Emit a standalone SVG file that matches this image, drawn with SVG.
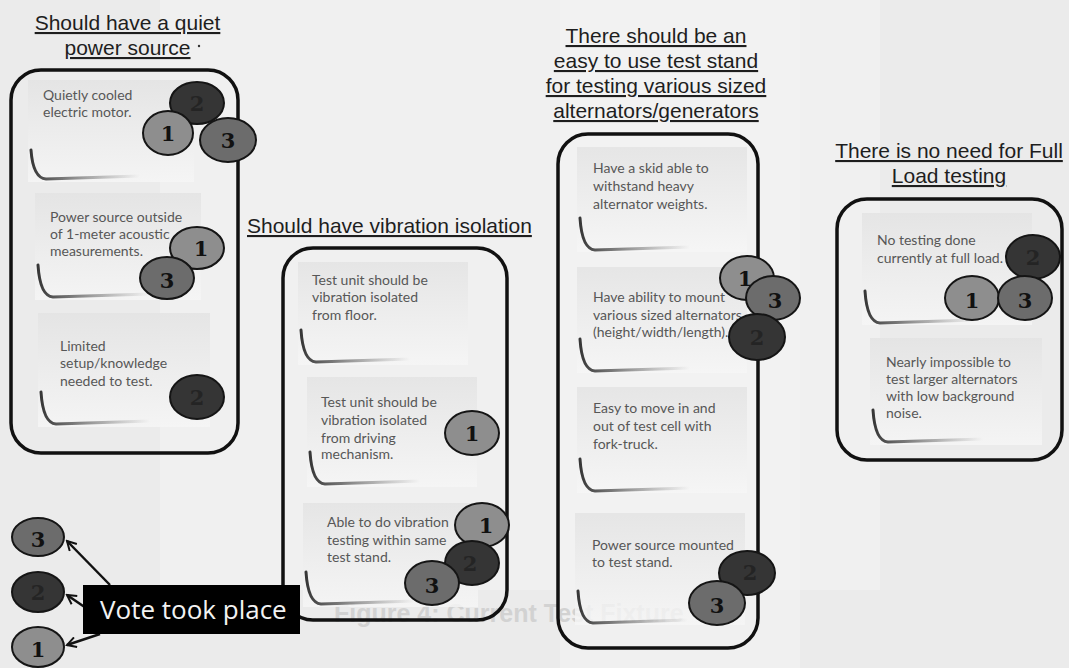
<svg xmlns="http://www.w3.org/2000/svg" width="1069" height="668" viewBox="0 0 1069 668">
<style>
.bg{fill:#ebebeb}
.hd{font-family:"Liberation Sans",Arial,sans-serif;font-size:21px;fill:#1e1e1e;text-decoration:underline}
.box{fill:none;stroke:#111;stroke-width:3.5}
.note{fill:url(#noteg);fill-opacity:0.82}
.curl{fill:none;stroke:url(#curlg);stroke-width:3;stroke-linecap:round}
.nt{font-family:Lato,"Open Sans",sans-serif;font-size:14px;fill:#575757}
.c1{fill:#8e8e8e;stroke:#151515;stroke-width:2}
.c2{fill:#353535;stroke:#151515;stroke-width:2}
.c3{fill:#6c6c6c;stroke:#151515;stroke-width:2}
.num{font-family:"DejaVu Serif",serif;font-weight:bold;font-size:21px;fill:#111;text-anchor:middle;dominant-baseline:central}
.num2{font-family:"DejaVu Serif",serif;font-weight:bold;font-size:21px;fill:#242424;text-anchor:middle;dominant-baseline:central}
.conn{stroke:#111;stroke-width:2.5;fill:none;marker-end:url(#arr)}
.lbl{fill:#000}
.lt{font-family:"Open Sans","Noto Sans",sans-serif;font-size:26px;fill:#f2f2f2}
.fig{font-family:"Liberation Sans",Arial,sans-serif;font-weight:bold;font-size:25px;fill:#d2d2d2}
</style>
<defs>
<linearGradient id="noteg" x1="0" y1="0" x2="0" y2="1">
<stop offset="0" stop-color="#e3e3e3"/>
<stop offset="1" stop-color="#f6f6f6"/>
</linearGradient>
<linearGradient id="curlg" x1="0" y1="0" x2="1" y2="0">
<stop offset="0" stop-color="#222" stop-opacity="0.9"/>
<stop offset="1" stop-color="#555" stop-opacity="0"/>
</linearGradient>
<marker id="arr" viewBox="0 0 12 12" refX="10" refY="6" markerWidth="12" markerHeight="12" markerUnits="userSpaceOnUse" orient="auto">
<path d="M1,1 L10,6 L1,11" fill="none" stroke="#111" stroke-width="2"/>
</marker>
</defs>

<rect class="bg" x="0" y="0" width="1069" height="668"/>
<rect x="160" y="0" width="720" height="590" fill="#f0f0f0"/>
<rect x="560" y="0" width="240" height="668" fill="#f3f3f3" opacity="0.6"/>
<text class="fig" x="334" y="622">Figure 4: Current Test Fixture</text>

<g id="group-power">
<text class="hd" x="127.5" y="30" text-anchor="middle">Should have a quiet</text>
<text class="hd" x="127.5" y="55" text-anchor="middle">power source</text>
<circle cx="199" cy="46" r="1.2" fill="#333"/>
<rect class="box" x="11" y="70" width="227" height="383" rx="30"/>
<g id="note-p1"><rect class="note" x="28" y="80" width="166" height="102"/><path class="curl" d="M31,150 Q33,178 46,179 L140,176"/>
<text class="nt" x="43" y="100">Quietly cooled</text><text class="nt" x="43" y="117">electric motor.</text></g>
<g id="note-p2"><rect class="note" x="35" y="193" width="166" height="107"/><path class="curl" d="M38,265 Q40,296 53,297 L150,294"/>
<text class="nt" x="50" y="222">Power source outside</text><text class="nt" x="50" y="239">of 1-meter acoustic</text><text class="nt" x="50" y="256">measurements.</text></g>
<g id="note-p3"><rect class="note" x="38" y="313" width="172" height="114"/><path class="curl" d="M41,392 Q43,423 56,424 L150,421"/>
<text class="nt" x="60" y="351">Limited</text><text class="nt" x="60" y="368">setup/knowledge</text><text class="nt" x="60" y="386">needed to test.</text></g>
<ellipse class="c2" cx="197" cy="103" rx="27" ry="21"/><text class="num2" x="197" y="103">2</text>
<ellipse class="c1" cx="168" cy="133" rx="25" ry="22"/><text class="num" x="168" y="133">1</text>
<ellipse class="c3" cx="228" cy="140" rx="28" ry="22"/><text class="num" x="228" y="140">3</text>
<ellipse class="c1" cx="197" cy="248" rx="27" ry="21"/><text class="num" x="201" y="248">1</text>
<ellipse class="c3" cx="167" cy="278" rx="27" ry="21"/><text class="num" x="167" y="280">3</text>
<ellipse class="c2" cx="197" cy="397" rx="27" ry="22"/><text class="num2" x="197" y="397">2</text>
</g>

<g id="group-vibration">
<text class="hd" x="247" y="233">Should have vibration isolation</text>
<rect class="box" x="283" y="248" width="224" height="372" rx="30"/>
<g id="note-v1"><rect class="note" x="298" y="262" width="170" height="103"/><path class="curl" d="M301,330 Q303,361 316,362 L410,359"/>
<text class="nt" x="312" y="285">Test unit should be</text><text class="nt" x="312" y="302">vibration isolated</text><text class="nt" x="312" y="320">from floor.</text></g>
<g id="note-v2"><rect class="note" x="307" y="377" width="170" height="110"/><path class="curl" d="M310,452 Q312,483 325,484 L420,481"/>
<text class="nt" x="321" y="407">Test unit should be</text><text class="nt" x="321" y="425">vibration isolated</text><text class="nt" x="321" y="443">from driving</text><text class="nt" x="321" y="459">mechanism.</text></g>
<g id="note-v3"><rect class="note" x="303" y="503" width="175" height="104"/><path class="curl" d="M306,572 Q308,603 321,604 L415,601"/>
<text class="nt" x="327" y="527">Able to do vibration</text><text class="nt" x="327" y="545">testing within same</text><text class="nt" x="327" y="562">test stand.</text></g>
<ellipse class="c1" cx="472" cy="433" rx="27" ry="22"/><text class="num" x="472" y="433">1</text>
<ellipse class="c1" cx="482" cy="525" rx="27" ry="22"/><text class="num" x="486" y="525">1</text>
<ellipse class="c2" cx="472" cy="563" rx="27" ry="22"/><text class="num2" x="470" y="563">2</text>
<ellipse class="c3" cx="432" cy="583" rx="27" ry="22"/><text class="num" x="432" y="585">3</text>
</g>

<g id="group-teststand">
<text class="hd" x="656" y="43" text-anchor="middle">There should be an</text>
<text class="hd" x="656" y="68" text-anchor="middle">easy to use test stand</text>
<text class="hd" x="656" y="93" text-anchor="middle">for testing various sized</text>
<text class="hd" x="656" y="118" text-anchor="middle">alternators/generators</text>
<rect class="box" x="558" y="134" width="200" height="514" rx="30"/>
<g id="note-t1"><rect class="note" x="577" y="147" width="170" height="105"/><path class="curl" d="M580,218 Q582,249 595,250 L690,247"/>
<text class="nt" x="593" y="173">Have a skid able to</text><text class="nt" x="593" y="191">withstand heavy</text><text class="nt" x="593" y="209">alternator weights.</text></g>
<g id="note-t2"><rect class="note" x="577" y="267" width="170" height="106"/><path class="curl" d="M580,339 Q582,370 595,371 L690,368"/>
<text class="nt" x="593" y="302">Have ability to mount</text><text class="nt" x="593" y="320">various sized alternators</text><text class="nt" x="593" y="337">(height/width/length).</text></g>
<g id="note-t3"><rect class="note" x="577" y="387" width="170" height="106"/><path class="curl" d="M580,459 Q582,490 595,491 L690,488"/>
<text class="nt" x="593" y="413">Easy to move in and</text><text class="nt" x="593" y="431">out of test cell with</text><text class="nt" x="593" y="449">fork-truck.</text></g>
<g id="note-t4"><rect class="note" x="575" y="513" width="170" height="112"/><path class="curl" d="M578,591 Q580,622 593,623 L688,620"/>
<text class="nt" x="592" y="550">Power source mounted</text><text class="nt" x="592" y="567">to test stand.</text></g>
<ellipse class="c1" cx="747" cy="278" rx="27" ry="22"/><text class="num" x="745" y="278">1</text>
<ellipse class="c3" cx="773" cy="298" rx="27" ry="22"/><text class="num" x="775" y="300">3</text>
<ellipse class="c2" cx="757" cy="337" rx="28" ry="23"/><text class="num2" x="757" y="337">2</text>
<ellipse class="c2" cx="747" cy="573" rx="28" ry="22"/><text class="num2" x="750" y="572">2</text>
<ellipse class="c3" cx="717" cy="603" rx="28" ry="22"/><text class="num" x="717" y="605">3</text>
</g>

<g id="group-fullload">
<text class="hd" x="949" y="158" text-anchor="middle">There is no need for Full</text>
<text class="hd" x="949" y="183" text-anchor="middle">Load testing</text>
<rect class="box" x="837" y="199" width="225" height="261" rx="30"/>
<g id="note-f1"><rect class="note" x="862" y="213" width="170" height="112"/><path class="curl" d="M865,291 Q867,322 880,323 L975,320"/>
<text class="nt" x="877" y="245">No testing done</text><text class="nt" x="877" y="263">currently at full load.</text></g>
<g id="note-f2"><rect class="note" x="870" y="338" width="172" height="107"/><path class="curl" d="M873,410 Q875,441 888,442 L983,439"/>
<text class="nt" x="886" y="367">Nearly impossible to</text><text class="nt" x="886" y="384">test larger alternators</text><text class="nt" x="886" y="401">with low background</text><text class="nt" x="886" y="418">noise.</text></g>
<ellipse class="c2" cx="1033" cy="257" rx="27" ry="22"/><text class="num2" x="1033" y="257">2</text>
<ellipse class="c1" cx="972" cy="298" rx="27" ry="22"/><text class="num" x="972" y="300">1</text>
<ellipse class="c3" cx="1025" cy="298" rx="27" ry="22"/><text class="num" x="1025" y="300">3</text>
</g>

<g id="legend-3"><ellipse class="c3" cx="38" cy="537" rx="26" ry="19"/><text class="num" x="38" y="539">3</text></g>
<g id="legend-2"><ellipse class="c2" cx="38" cy="592" rx="26" ry="20"/><text class="num2" x="38" y="592">2</text></g>
<g id="legend-1"><ellipse class="c1" cx="38" cy="647" rx="26" ry="20"/><text class="num" x="38" y="649">1</text></g>

<g id="connectors">
<line class="conn" x1="110" y1="585" x2="67" y2="541"/>
<line class="conn" x1="86" y1="608" x2="67" y2="595"/>
<line class="conn" x1="100" y1="634" x2="67" y2="645"/>
</g>

<g id="vote-label">
<rect class="lbl" x="83" y="585" width="217" height="49"/>
<text class="lt" x="100" y="619">Vote took place</text>
</g>
</svg>
